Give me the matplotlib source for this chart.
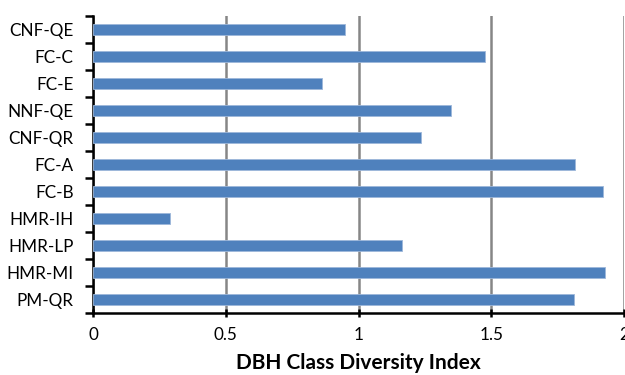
import matplotlib
matplotlib.use("Agg")
import matplotlib.pyplot as plt
import numpy as np

plt.rcParams['font.family'] = ['Lato', 'DejaVu Sans']

# Forest stand types, listed bottom to top as drawn
categories = ["PM-QR", "HMR-MI", "HMR-LP", "HMR-IH", "FC-B", "FC-A",
              "CNF-QR", "NNF-QE", "FC-E", "FC-C", "CNF-QE"]
diversity = [1.81, 1.93, 1.165, 0.29, 1.92, 1.815,
             1.235, 1.348, 0.862, 1.475, 0.949]
x_ticks = [0, 0.5, 1, 1.5, 2]
x_tick_labels = ["0", "0.5", "1", "1.5", "2"]

fig = plt.figure(figsize=(6.25, 3.75), dpi=100)
ax = fig.add_axes([0.1488, 0.165, 0.8496, 0.792])

y = np.arange(len(categories))
ax.barh(y, diversity, height=0.4, color="#4F81BD", edgecolor="#9DB7DA",
        linewidth=0.6, zorder=3)

ax.set_xlim(0, 2)
ax.set_ylim(-0.5, len(categories) - 0.5)

ax.set_xticks(x_ticks)
ax.set_xticklabels(x_tick_labels)
ax.xaxis.grid(True, color="#868686", linewidth=1.8, zorder=0)
ax.yaxis.grid(False)

# Category labels centred on bars, tick marks at category boundaries
ax.set_yticks(y)
ax.set_yticklabels(categories)
ax.set_yticks(np.arange(-0.5, len(categories)), minor=True)
ax.tick_params(axis="y", which="major", length=0, pad=14, labelsize=12.3)
ax.tick_params(axis="y", which="minor", length=6, width=1.8, direction="out")
ax.tick_params(axis="x", which="major", length=6, width=1.8, direction="inout",
               pad=7, labelsize=12.3)

for side in ["top", "right"]:
    ax.spines[side].set_visible(False)
for side in ["left", "bottom"]:
    ax.spines[side].set_linewidth(1.8)
    ax.spines[side].set_color("black")

ax.set_xlabel("DBH Class Diversity Index", fontsize=15, fontweight="bold",
              labelpad=7)

fig.savefig("out.png", dpi=100)
